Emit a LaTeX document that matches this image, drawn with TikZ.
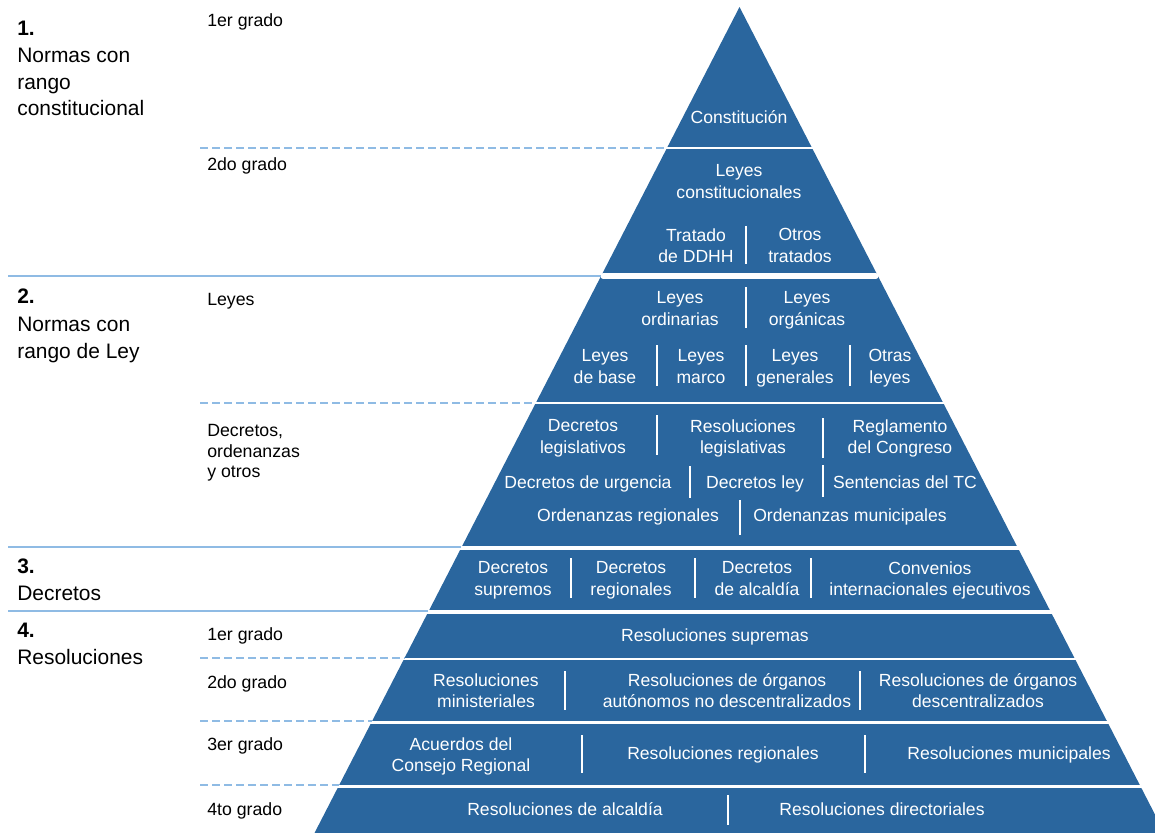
\documentclass[tikz,border=0pt]{standalone}
\usepackage{fontspec}
\setmainfont{Liberation Sans}
\usepackage{xcolor}
\usepackage{tikz}
\usetikzlibrary{positioning}

\definecolor{pyrblue}{HTML}{2A669E}
\definecolor{guideblue}{HTML}{8FBBE4}
% same height and depth for every line inside the pyramid
\newcommand{\pyrstrut}{\rule[-0.3em]{0pt}{1em}}

\begin{document}
\begin{tikzpicture}[x=0.025cm,y=-0.025cm,
    intxt/.style={text=white,align=center,inner sep=0pt,yshift=-0.075cm,
        font=\fontsize{12.5}{15.2}\selectfont,
        execute at begin node=\pyrstrut,execute at end node=\pyrstrut},
    grado/.style={anchor=base west,inner sep=0pt,font=\fontsize{12.6}{15}\selectfont},
    nivel/.style={anchor=base west,inner sep=0pt,font=\fontsize{14.9}{18.8}\selectfont},
    divider/.style={white,line width=1.1pt},
    guide/.style={guideblue,line width=1.2pt},
    guidedash/.style={guide,dash pattern=on 0.2cm off 0.1cm}]
    \useasboundingbox (0,0) rectangle (1155,833);
    \clip (0,0) rectangle (1155,833);

    % the pyramid
    \fill [pyrblue] (739.5,7) -- (1164.5,833) -- (314.5,833) -- cycle;
    \foreach \y/\w in {148/1.2pt, 403/1.5pt, 548/2.2pt, 612/2.8pt, 659/1.8pt, 722.5/1.8pt, 786.5/2.2pt}
        \draw [white,line width=\w] ({739.5-0.53*(\y-7)},\y) -- ({739.5+0.53*(\y-7)},\y);
    \draw [white,line width=3.6pt,line cap=round] (603,276) -- (876,276);

    % lines on the left
    \foreach \y in {148, 403, 658, 721, 785}
        \draw [guidedash] (200,\y) -- ({739.5-0.515*(\y-7)},\y);
    \foreach \y in {276, 547, 611}
        \draw [guide] (8,\y) -- ({739.5-0.515*(\y-7)},\y);

    % levels
    \foreach \t/\y [count=\i] in {\textbf{1.}/35.5, Normas con/63, rango/89.5, constitucional/116,
        \textbf{2.}/303.5, Normas con/331, rango de Ley/358,
        \textbf{3.}/573, Decretos/600, \textbf{4.}/637, Resoluciones/664}
        \node [nivel] (n\i) at (17,\y) {\t};
    \foreach \t/\y [count=\i] in {1er grado/26.7, 2do grado/170.5, Leyes/305,
        {Decretos,}/436.5, ordenanzas/457, y otros/477.5,
        1er grado/640.5, 2do grado/688, 3er grado/750.5, 4to grado/815}
        \node [grado] (g\i) at (207,\y) {\t};

    % contents
    \node [intxt] (const) at (739,117) {Constitución};
    \node [intxt] (lconst) at (739,181) {Leyes\\constitucionales};
    \node [intxt] (ddhh) at (696,245) {Tratado\\de DDHH};
    \node [intxt] (otrat) at (800,245) {Otros\\tratados};
    \node [intxt] (lord) at (680,308) {Leyes\\ordinarias};
    \node [intxt] (lorg) at (807,308) {Leyes\\orgánicas};
    \node [intxt] (lbase) at (605,366) {Leyes\\de base};
    \node [intxt] (lmarco) at (701,366) {Leyes\\marco};
    \node [intxt] (lgen) at (795,366) {Leyes\\generales};
    \node [intxt] (lotras) at (890,366) {Otras\\leyes};
    \node [intxt] (dleg) at (583,436) {Decretos\\legislativos};
    \node [intxt] (rleg) at (743,436) {Resoluciones\\legislativas};
    \node [intxt] (regl) at (900,436) {Reglamento\\del Congreso};
    \node [intxt] (durg) at (588,482) {Decretos de urgencia};
    \node [intxt] (dley) at (755,482) {Decretos ley};
    \node [intxt] (stc) at (905,482) {Sentencias del TC};
    \node [intxt] (oreg) at (628,515) {Ordenanzas regionales};
    \node [intxt] (omun) at (850,515) {Ordenanzas municipales};
    \node [intxt] (dsup) at (513,578) {Decretos\\supremos};
    \node [intxt] (dreg) at (631,578) {Decretos\\regionales};
    \node [intxt] (dalc) at (757,578) {Decretos\\de alcaldía};
    \node [intxt] (conv) at (930,578) {Convenios\\internacionales ejecutivos};
    \node [intxt] (rsup) at (715,635) {Resoluciones supremas};
    \node [intxt] (rmin) at (486,690) {Resoluciones\\ministeriales};
    \node [intxt] (rautn) at (727,690) {Resoluciones de órganos\\autónomos no descentralizados};
    \node [intxt] (rdesc) at (978,690) {Resoluciones de órganos\\descentralizados};
    \node [intxt] (acuer) at (461,754) {Acuerdos del\\Consejo Regional};
    \node [intxt] (rreg) at (723,753) {Resoluciones regionales};
    \node [intxt] (rmun) at (1009,753) {Resoluciones municipales};
    \node [intxt] (ralc) at (565,809) {Resoluciones de alcaldía};
    \node [intxt] (rdir) at (882,809) {Resoluciones directoriales};

    % dividers between items
    \foreach \x/\ya/\yb in {746/226/264, 746/287/328, 657/345/386, 746/345/386, 850/345/386,
        657/415/455, 823/418/458, 690/466/498, 823/465/497, 740/500/535,
        571/558/598, 695/558/598, 811/558/598, 565/671/710, 860/671/710,
        582/735/773, 865/735/773, 728/795/825}
        \draw [divider] (\x,\ya) -- (\x,\yb);
\end{tikzpicture}
\end{document}
